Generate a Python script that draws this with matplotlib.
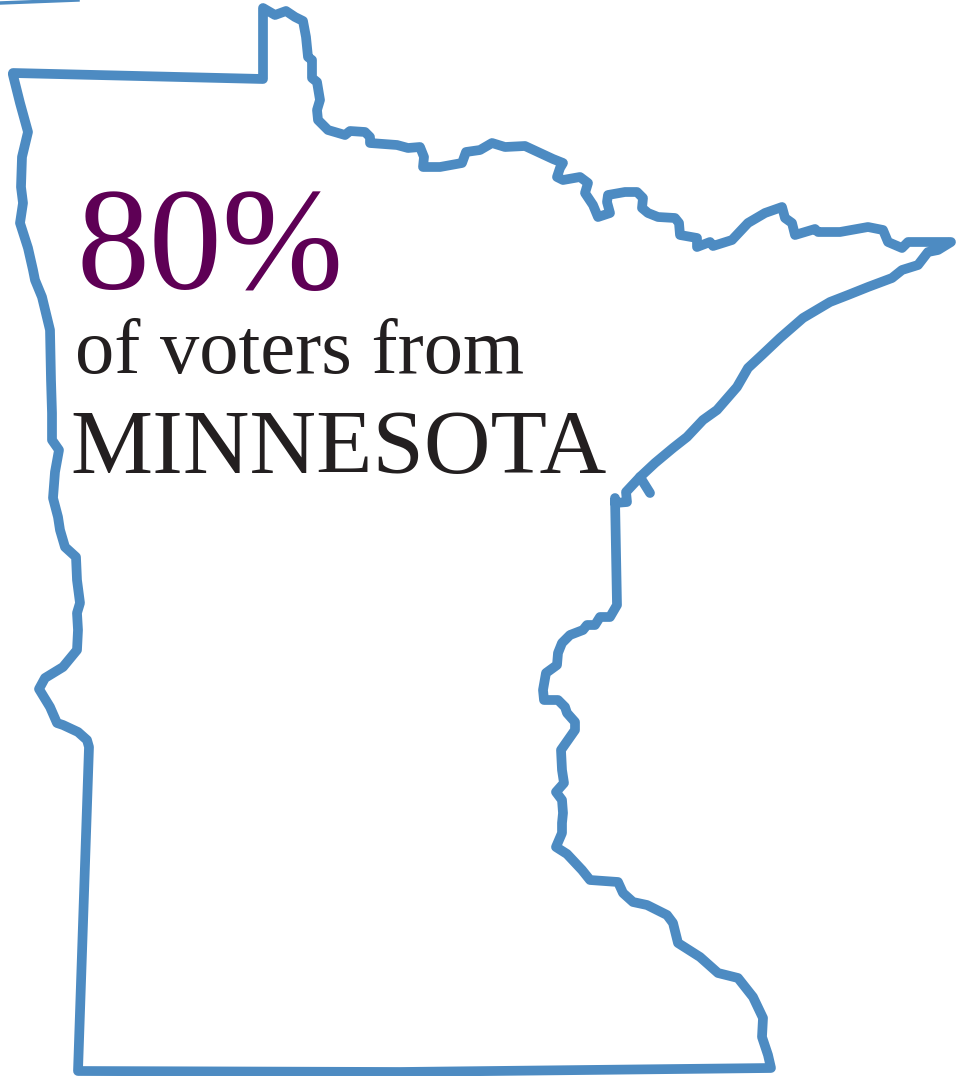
import matplotlib
matplotlib.use("Agg")
import matplotlib.pyplot as plt

# outline of the state, clockwise from the NW corner (picture pixels)
outline_x = [13, 263, 263, 275, 286, 295, 303, 306, 308, 312, 312, 317, 320, 317, 318, 328, 345, 350, 365, 370, 370, 397, 408, 420, 424, 423, 440,
             462, 466, 480, 492, 505, 525, 540, 553, 563, 560, 557, 563, 580, 588, 585, 593, 598, 610, 607, 608, 625, 637, 643, 642, 648, 658, 675,
             679, 680, 697, 697, 710, 713, 732, 748, 765, 782, 785, 792, 795, 815, 818, 840, 868, 883, 888, 902, 908, 933, 951, 938, 928, 918, 902,
             892, 868, 848, 830, 803, 780, 762, 748, 737, 717, 703, 687, 673, 655, 640, 626, 627, 615, 615, 617,
             610, 600, 595, 587, 583, 570, 562, 558, 557, 546, 543, 544, 558, 565, 567, 575, 575, 568, 561, 562, 564, 556, 562, 563, 562, 562, 556,
             567, 582, 590, 618, 623, 633, 647, 667, 673, 678, 700, 718, 738, 753, 763, 762, 768, 771,
             400, 78, 89, 87, 78, 63, 57, 50, 39, 45, 63, 77, 78, 77, 80, 77, 76, 65, 60, 58, 53, 55, 59, 52, 52, 51, 50, 42, 35, 33, 28, 20, 23, 21,
             22, 28, 20, 13]
outline_y = [73, 79, 8, 15, 11, 17, 21, 37, 57, 60, 78, 82, 100, 110, 120, 130, 135, 131, 132, 137, 143, 145, 148, 147, 157, 167, 167,
             163, 152, 150, 143, 147, 146, 153, 159, 163, 168, 177, 180, 177, 183, 193, 205, 217, 213, 202, 195, 192, 192, 198, 208, 213, 217, 218,
             223, 235, 238, 247, 242, 246, 240, 223, 213, 207, 218, 223, 235, 229, 232, 232, 227, 230, 242, 248, 242, 242, 242, 250, 252, 265, 270,
             278, 287, 295, 302, 318, 338, 355, 368, 387, 410, 420, 437, 448, 463, 477, 492, 502, 503, 498, 605,
             617, 617, 625, 625, 630, 635, 643, 653, 665, 673, 690, 700, 700, 707, 713, 722, 730, 740, 750, 770, 783, 792, 800, 813, 823, 833, 847,
             854, 870, 880, 882, 893, 902, 905, 915, 923, 943, 957, 973, 978, 997, 1018, 1037, 1055, 1068,
             1072, 1071, 747, 740, 732, 725, 723, 707, 689, 678, 667, 650, 630, 613, 603, 580, 557, 547, 530, 517, 498, 472, 450, 440, 413, 380, 330, 297, 280, 270, 248, 223, 203, 187,
             157, 132, 103, 75]

# small spur on the Duluth end, and the sliver of another outline at the top edge
spur_x = [640, 650]
spur_y = [477, 493]
sliver_x = [0, 78]
sliver_y = [3, 0]

big_number = "80%"
line_1 = "of voters from"
line_2 = "MINNESOTA"

blue = "#4d8bc2"

fig = plt.figure(figsize=(9.66, 10.76), dpi=100)
ax = fig.add_axes([0, 0, 1, 1])
ax.set_xlim(0, 966)
ax.set_ylim(1076, 0)
ax.axis("off")

ax.plot(outline_x, outline_y, color=blue, lw=7, solid_joinstyle="round", solid_capstyle="round")
ax.plot(spur_x, spur_y, color=blue, lw=7, solid_capstyle="round")
ax.plot(sliver_x, sliver_y, color=blue, lw=2.5)

ax.text(76, 289, big_number, family="Liberation Serif", fontsize=105, color="#5e0055", va="baseline")
ax.text(75, 373, line_1, family="Liberation Serif", fontsize=56.5, color="#231f20", va="baseline")
ax.text(70, 473, line_2, family="Liberation Serif", fontsize=66.5, color="#231f20", va="baseline")

fig.savefig("out.png", dpi=100)
